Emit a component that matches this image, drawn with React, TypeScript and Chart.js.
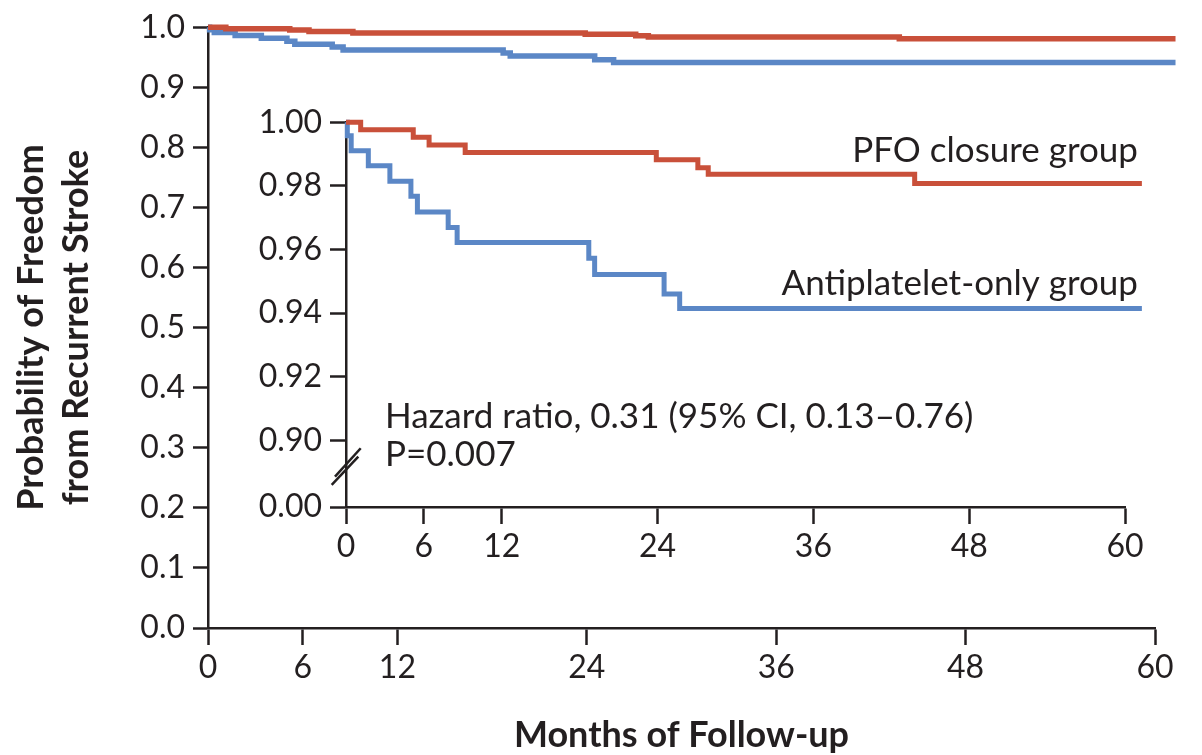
import React, { useEffect, useRef } from "react";
import { Chart, registerables } from "chart.js";

Chart.register(...registerables);

// ---------- data ----------
const monthTicks = [0, 6, 12, 24, 36, 48, 60];
const mainYTicks = [0, 0.1, 0.2, 0.3, 0.4, 0.5, 0.6, 0.7, 0.8, 0.9, 1.0];
const insetYTicks = [0.879, 0.9, 0.92, 0.94, 0.96, 0.98, 1.0];
const insetYLabels = ["0.00", "0.90", "0.92", "0.94", "0.96", "0.98", "1.00"];

const pfoMonths = [0, 1.13, 5.18, 6.4, 9.18, 23.9, 27.1, 27.9, 43.8, 61.3];
const pfoSurvival = [1.0, 0.9976, 0.9953, 0.9928, 0.9905, 0.9882, 0.9857, 0.9836, 0.9807, 0.9807];

const antiMonths = [0, 0.1, 0.4, 1.72, 3.38, 5.0, 5.5, 7.87, 8.56, 18.7, 19.15, 24.5, 25.7, 61.3];
const antiSurvival = [1.0, 0.9957, 0.991, 0.9863, 0.9814, 0.9767, 0.9718, 0.9669, 0.9622, 0.9572, 0.9521, 0.946, 0.9414, 0.9414];

const groupLabels = ["PFO closure group", "Antiplatelet-only group"];
const statLines = ["Hazard ratio, 0.31 (95% CI, 0.13\u20130.76)", "P=0.007"];
const yTitle = ["Probability of Freedom", "from Recurrent Stroke"];
const xTitle = "Months of Follow-up";

// ---------- style ----------
const RED = "#c9503a";
const BLUE = "#5b87c6";
const INK = "#231f20";
const FONT = "Lato";

const toPoints = (xs: number[], ys: number[]) => xs.map((x, i) => ({ x, y: ys[i] }));

const makeDatasets = (width: number) => [
  {
    label: groupLabels[0],
    data: toPoints(pfoMonths, pfoSurvival),
    borderColor: RED,
    borderWidth: width,
    stepped: "before" as const,
    pointRadius: 0,
    fill: false,
    clip: false as any,
  },
  {
    label: groupLabels[1],
    data: toPoints(antiMonths, antiSurvival),
    borderColor: BLUE,
    borderWidth: width,
    stepped: "before" as const,
    pointRadius: 0,
    fill: false,
    clip: false as any,
  },
];

const insetTextPlugin = {
  id: "insetText",
  afterDraw(chart: any) {
    const { ctx, scales, chartArea } = chart;
    const xs = scales.x;
    const ys = scales.y;
    ctx.save();
    // axis break marks ("//")
    ctx.strokeStyle = INK;
    ctx.lineWidth = 2.5;
    const bx = chartArea.left;
    const by = ys.getPixelForValue(0.8916);
    const segs = [
      [-14.3, 18, 12.3, -10.3],
      [-11, 9.7, 14.7, -18.7],
    ];
    segs.forEach(([x1, y1, x2, y2]) => {
      ctx.beginPath();
      ctx.moveTo(bx + x1, by + y1);
      ctx.lineTo(bx + x2, by + y2);
      ctx.stroke();
    });
    // labels
    ctx.fillStyle = INK;
    ctx.font = `35px ${FONT}`;
    ctx.textBaseline = "middle";
    ctx.textAlign = "right";
    const rx = xs.getPixelForValue(61);
    ctx.fillText(groupLabels[0], rx, ys.getPixelForValue(0.9911));
    ctx.fillText(groupLabels[1], rx, ys.getPixelForValue(0.9493));
    ctx.textAlign = "left";
    const lx = xs.getPixelForValue(3.0);
    ctx.fillText(statLines[0], lx, ys.getPixelForValue(0.9075));
    ctx.fillText(statLines[1], lx, ys.getPixelForValue(0.8953));
    ctx.restore();
  },
};

export default function App() {
  const mainRef = useRef<HTMLCanvasElement>(null);
  const insetRef = useRef<HTMLCanvasElement>(null);

  useEffect(() => {
    document.body.style.margin = "0";
    const tickFont = { family: FONT, size: 32 };
    const main = new Chart(mainRef.current!, {
      type: "line",
      data: { datasets: makeDatasets(5.5) as any },
      options: {
        animation: false,
        responsive: false,
        maintainAspectRatio: false,
        layout: { padding: { top: 22, right: 47, left: 0, bottom: 0 } },
        plugins: { legend: { display: false }, tooltip: { enabled: false } },
        scales: {
          x: {
            type: "linear",
            min: 0,
            max: 60,
            afterBuildTicks: (s: any) => {
              s.ticks = monthTicks.map((v) => ({ value: v }));
            },
            afterFit: (s: any) => {
              s.height = 127;
            },
            grid: { drawOnChartArea: false, drawTicks: true, tickLength: 17, tickWidth: 2.5, tickColor: INK },
            border: { display: true, color: INK, width: 2.5 },
            ticks: { color: INK, font: tickFont, padding: 3, maxRotation: 0, autoSkip: false, callback: (v: any) => String(v) },
            title: {
              display: true,
              text: xTitle,
              color: INK,
              font: { family: FONT, size: 36, weight: "bold", lineHeight: 1.1 },
              padding: { top: 0, bottom: 0 },
            },
          },
          y: {
            type: "linear",
            min: 0,
            max: 1,
            afterBuildTicks: (s: any) => {
              s.ticks = mainYTicks.map((v) => ({ value: v }));
            },
            afterFit: (s: any) => {
              s.width = 208;
            },
            grid: { drawOnChartArea: false, drawTicks: true, tickLength: 15, tickWidth: 2.5, tickColor: INK },
            border: { display: true, color: INK, width: 2.5 },
            ticks: { color: INK, font: tickFont, padding: 8, callback: (v: any) => Number(v).toFixed(1) },
            title: {
              display: true,
              text: yTitle,
              color: INK,
              font: { family: FONT, size: 36, weight: "bold", lineHeight: 1.25 },
              padding: { top: 8.5, bottom: 0 },
            },
          },
        },
      } as any,
    });

    const inset = new Chart(insetRef.current!, {
      type: "line",
      data: { datasets: makeDatasets(5) as any },
      options: {
        animation: false,
        responsive: false,
        maintainAspectRatio: false,
        layout: { padding: { top: 24.5, right: 77, left: 0, bottom: 0 } },
        plugins: { legend: { display: false }, tooltip: { enabled: false } },
        scales: {
          x: {
            type: "linear",
            min: 0,
            max: 60,
            afterBuildTicks: (s: any) => {
              s.ticks = monthTicks.map((v) => ({ value: v }));
            },
            afterFit: (s: any) => {
              s.height = 78;
            },
            grid: { drawOnChartArea: false, drawTicks: true, tickLength: 17, tickWidth: 2.5, tickColor: INK },
            border: { display: true, color: INK, width: 2.5 },
            ticks: { color: INK, font: tickFont, padding: 3, maxRotation: 0, autoSkip: false, callback: (v: any) => String(v) },
          },
          y: {
            type: "linear",
            min: insetYTicks[0],
            max: 1,
            afterBuildTicks: (s: any) => {
              s.ticks = insetYTicks.map((v) => ({ value: v }));
            },
            afterFit: (s: any) => {
              s.width = 116;
            },
            grid: { drawOnChartArea: false, drawTicks: true, tickLength: 16, tickWidth: 2.5, tickColor: INK },
            border: { display: true, color: INK, width: 2.5 },
            ticks: {
              color: INK,
              font: tickFont,
              padding: 8,
              callback: (v: any) => {
                const i = insetYTicks.findIndex((t) => Math.abs(t - Number(v)) < 1e-6);
                return i >= 0 ? insetYLabels[i] : "";
              },
            },
          },
        },
      } as any,
      plugins: [insetTextPlugin],
    });

    return () => {
      main.destroy();
      inset.destroy();
    };
  }, []);

  return (
    <div style={{ position: "absolute", left: 0, top: 0, width: 1202, height: 755, background: "#fff" }}>
      <canvas ref={mainRef} width={1202} height={755} style={{ position: "absolute", left: 0, top: 0 }} />
      <canvas ref={insetRef} width={972} height={490} style={{ position: "absolute", left: 230, top: 95 }} />
    </div>
  );
}
